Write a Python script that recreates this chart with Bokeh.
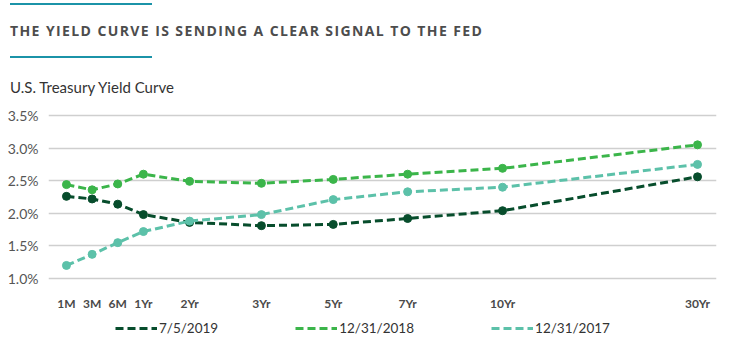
from bokeh.plotting import figure
from bokeh.layouts import column
from bokeh.models import (Range1d, FixedTicker, PrintfTickFormatter, Legend, LegendItem, Div)
from bokeh.embed import file_html
from bokeh.resources import INLINE

# ---- data ----
maturities = ["1M", "3M", "6M", "1Yr", "2Yr", "3Yr", "5Yr", "7Yr", "10Yr", "30Yr"]
maturity_slot = [0, 1, 2, 3, 4.8, 7.6, 10.4, 13.3, 17, 24.6]
y_2019_07_05 = [2.26, 2.22, 2.14, 1.98, 1.86, 1.81, 1.83, 1.92, 2.04, 2.56]
y_2018_12_31 = [2.44, 2.36, 2.45, 2.60, 2.49, 2.46, 2.52, 2.60, 2.69, 3.05]
y_2017_12_31 = [1.20, 1.37, 1.55, 1.72, 1.88, 1.98, 2.21, 2.33, 2.40, 2.75]
series_names = ["7/5/2019", "12/31/2018", "12/31/2017"]
y_ticks = [1.0, 1.5, 2.0, 2.5, 3.0, 3.5]
title_text = "THE YIELD CURVE IS SENDING A CLEAR SIGNAL TO THE FED"
subtitle_text = "U.S. Treasury Yield Curve"

colors = ["#074d2c", "#3bb54a", "#5cc1a9"]

W = 745
HEADER_H = 100
MAIN_H = 214
LEGEND_H = 351 - HEADER_H - MAIN_H
FRAME_LEFT, FRAME_RIGHT = 48, 716

# ---- header ----
rule = "position:absolute;left:10px;width:142px;height:2px;background:#1b93a8;"
header = Div(width=W, height=HEADER_H, margin=0, text=(
    '<div style="position:relative;width:745px;height:100px;">'
    f'<div style="{rule}top:3px;"></div>'
    '<div style="position:absolute;left:10px;top:21px;white-space:nowrap;'
    "font-family:'Open Sans';font-weight:bold;font-size:14px;letter-spacing:1.4px;"
    f'color:#4d4d4d;line-height:20px;">{title_text}</div>'
    f'<div style="{rule}top:56px;"></div>'
    '<div style="position:absolute;left:10px;top:77px;white-space:nowrap;'
    "font-family:'Lato';font-size:15px;color:#333333;line-height:20px;\">"
    f'{subtitle_text}</div>'
    '</div>'))

# ---- main chart ----
p = figure(width=W, height=MAIN_H, output_backend="svg", toolbar_location=None,
           x_range=Range1d(-0.70, 25.34), y_range=Range1d(0.923, 3.577),
           min_border_left=FRAME_LEFT, min_border_right=W - FRAME_RIGHT,
           min_border_top=10, min_border_bottom=31, margin=0)
p.outline_line_color = None

p.xaxis.ticker = FixedTicker(ticks=maturity_slot)
p.xaxis.major_label_overrides = {s: m for s, m in zip(maturity_slot, maturities)}
p.xaxis.axis_line_color = None
p.xaxis.major_tick_line_color = None
p.xaxis.minor_tick_line_color = None
p.xaxis.major_label_standoff = 6
p.xaxis.major_label_text_font = "Lato"
p.xaxis.major_label_text_font_style = "bold"
p.xaxis.major_label_text_font_size = "12px"
p.xaxis.major_label_text_color = "#4a4a4a"

p.yaxis.ticker = FixedTicker(ticks=y_ticks)
p.yaxis.formatter = PrintfTickFormatter(format="%.1f%%")
p.yaxis.axis_line_color = None
p.yaxis.major_tick_line_color = None
p.yaxis.minor_tick_line_color = None
p.yaxis.major_label_standoff = 4
p.yaxis.major_label_text_font = "Lato"
p.yaxis.major_label_text_font_size = "14px"
p.yaxis.major_label_text_color = "#555555"

p.xgrid.grid_line_color = None
p.ygrid.ticker = FixedTicker(ticks=y_ticks)
p.ygrid.grid_line_color = "#cfcfcf"
p.ygrid.grid_line_width = 1.5

for ys, c in zip([y_2019_07_05, y_2018_12_31, y_2017_12_31], colors):
    p.line(maturity_slot, ys, line_color=c, line_width=3, line_dash="8 4")
    p.scatter(maturity_slot, ys, size=8, fill_color=c, line_color=c)

# ---- legend strip (placeholder renderers carry only the style) ----
lg = figure(width=W, height=LEGEND_H, output_backend="svg", toolbar_location=None,
            x_range=Range1d(0, 1), y_range=Range1d(0, 1), x_axis_type=None, y_axis_type=None,
            min_border_left=FRAME_LEFT, min_border_right=W - FRAME_RIGHT,
            min_border_top=0, min_border_bottom=0, margin=0)
lg.outline_line_color = None
lg.grid.visible = False
nan = float("nan")
items = []
for name, c in zip(series_names, colors):
    r = lg.line([nan], [nan], line_color=c, line_width=3, line_dash="8 4")
    items.append(LegendItem(label=name, renderers=[r]))
legend = Legend(items=items, orientation="horizontal", location=(67, 13),
                glyph_width=42, glyph_height=20, label_standoff=2, spacing=77,
                padding=0, margin=0, border_line_color=None, background_fill_alpha=0,
                label_text_font="Lato", label_text_font_size="13.5px", label_text_color="#333333")
lg.add_layout(legend, "center")

open("out.html", "w").write(file_html(column(header, p, lg, spacing=0), INLINE))
